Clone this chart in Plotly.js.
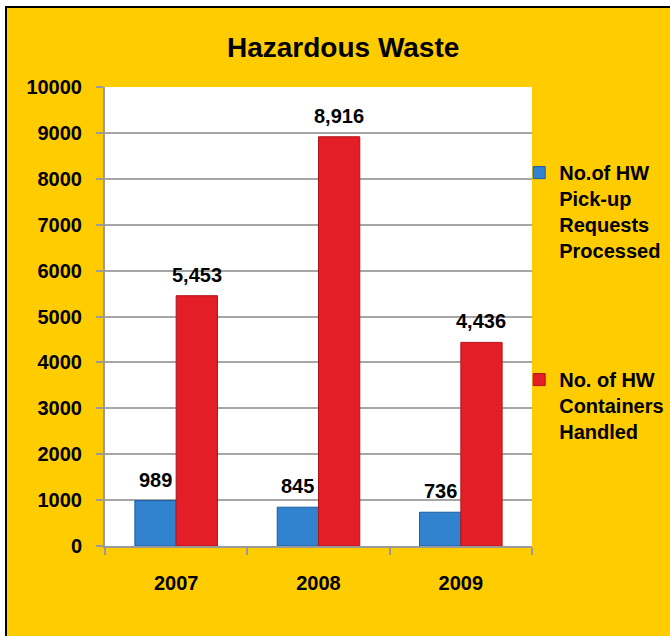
<!DOCTYPE html>
<html>
<head>
<meta charset="utf-8">
<script src="https://cdn.plot.ly/plotly-3.0.1.min.js"></script>
<style>
  html, body { margin: 0; padding: 0; background: #ffffff; width: 670px; height: 636px; overflow: hidden; }
  #frame { position: absolute; left: 5px; top: 6px; border-left: 2px solid #000; border-top: 2px solid #000; width: 663px; height: 628px; background: #FFCC00; }
  #chart { width: 663px; height: 628px; }
</style>
</head>
<body>
<div id="frame"><div id="chart"></div></div>
<script>
// ---- data ----
const years = ["2007", "2008", "2009"];
const pickupRequests = [989, 845, 736];
const containersHandled = [5453, 8916, 4436];
const seriesNames = [
  "No.of HW<br>Pick-up<br>Requests<br>Processed",
  "No. of HW<br>Containers<br>Handled"
];
const yTicks = [0, 1000, 2000, 3000, 4000, 5000, 6000, 7000, 8000, 9000, 10000];
const chartTitle = "Hazardous Waste";

// ---- styling ----
const FONT = "'Liberation Sans', Arial, sans-serif";
const W = 663, H = 628;
const margin = { l: 98, r: 138, t: 79, b: 90, pad: 0, autoexpand: false };
const bargap = 0.42;
const catPx = (W - margin.l - margin.r) / years.length;
const halfShift = (1 - bargap) / 4 * catPx;

const traces = [
  {
    type: "bar", x: years, y: pickupRequests, name: seriesNames[0], legendgroup: "a",
    marker: { color: "#3182CF", line: { color: "#1B5C9E", width: 1 } },
    hoverinfo: "y"
  },
  {
    type: "bar", x: years, y: containersHandled, name: seriesNames[1], legendgroup: "b",
    marker: { color: "#E41E26", line: { color: "#B0141A", width: 1 } },
    hoverinfo: "y"
  }
];

const annotations = [];
[pickupRequests, containersHandled].forEach((vals, si) => {
  vals.forEach((v, i) => {
    annotations.push({
      xref: "x", yref: "y", x: i, y: v,   // category index on the category axis
      xshift: si === 0 ? -halfShift : halfShift,
      yanchor: "bottom", yshift: 8, showarrow: false,
      text: v.toLocaleString("en-US"),
      font: { family: FONT, size: 20, color: "#000", weight: "bold" }
    });
  });
});

const layout = {
  width: W, height: H,
  margin: margin,
  paper_bgcolor: "#FFCC00",
  plot_bgcolor: "#FFFFFF",
  font: { family: FONT, size: 20, color: "#000", weight: "bold" },
  title: {
    text: "<b>" + chartTitle + "</b>",
    font: { family: FONT, size: 28, color: "#000" },
    x: 0.507, xanchor: "center", y: 0.938, yanchor: "middle", xref: "container", yref: "container"
  },
  barmode: "group",
  bargap: bargap,
  bargroupgap: 0,
  xaxis: {
    type: "category",
    range: [-0.5, years.length - 0.5],
    showline: true, linecolor: "#9A9A9A", linewidth: 2,
    ticks: "outside", tickson: "boundaries", ticklen: 7, tickcolor: "#9A9A9A", tickwidth: 2,
    tickfont: { family: FONT, size: 20, color: "#000", weight: "bold" },
    ticklabelstandoff: 18, tickangle: 0,
    showgrid: false, fixedrange: true
  },
  yaxis: {
    range: [0, 10000],
    tickvals: yTicks, ticktext: yTicks.map(String),
    showline: true, linecolor: "#9A9A9A", linewidth: 2,
    ticks: "outside", ticklen: 7, tickcolor: "#9A9A9A", tickwidth: 2,
    showgrid: true, gridcolor: "#A6A6A6", gridwidth: 2,
    zeroline: false,
    tickfont: { family: FONT, size: 20, color: "#000", weight: "bold" },
    ticklabelstandoff: 10,
    fixedrange: true
  },
  showlegend: true,
  legend: {
    x: 0.97, xanchor: "left", y: 0.856, yanchor: "top",
    bgcolor: "rgba(0,0,0,0)",
    font: { family: FONT, size: 20, color: "#000", weight: "bold" },
    traceorder: "grouped", tracegroupgap: 100, valign: "top",
    itemclick: false, itemdoubleclick: false
  },
  annotations: annotations
};

Plotly.newPlot("chart", traces, layout, { displayModeBar: false, staticPlot: true });
</script>
</body>
</html>
